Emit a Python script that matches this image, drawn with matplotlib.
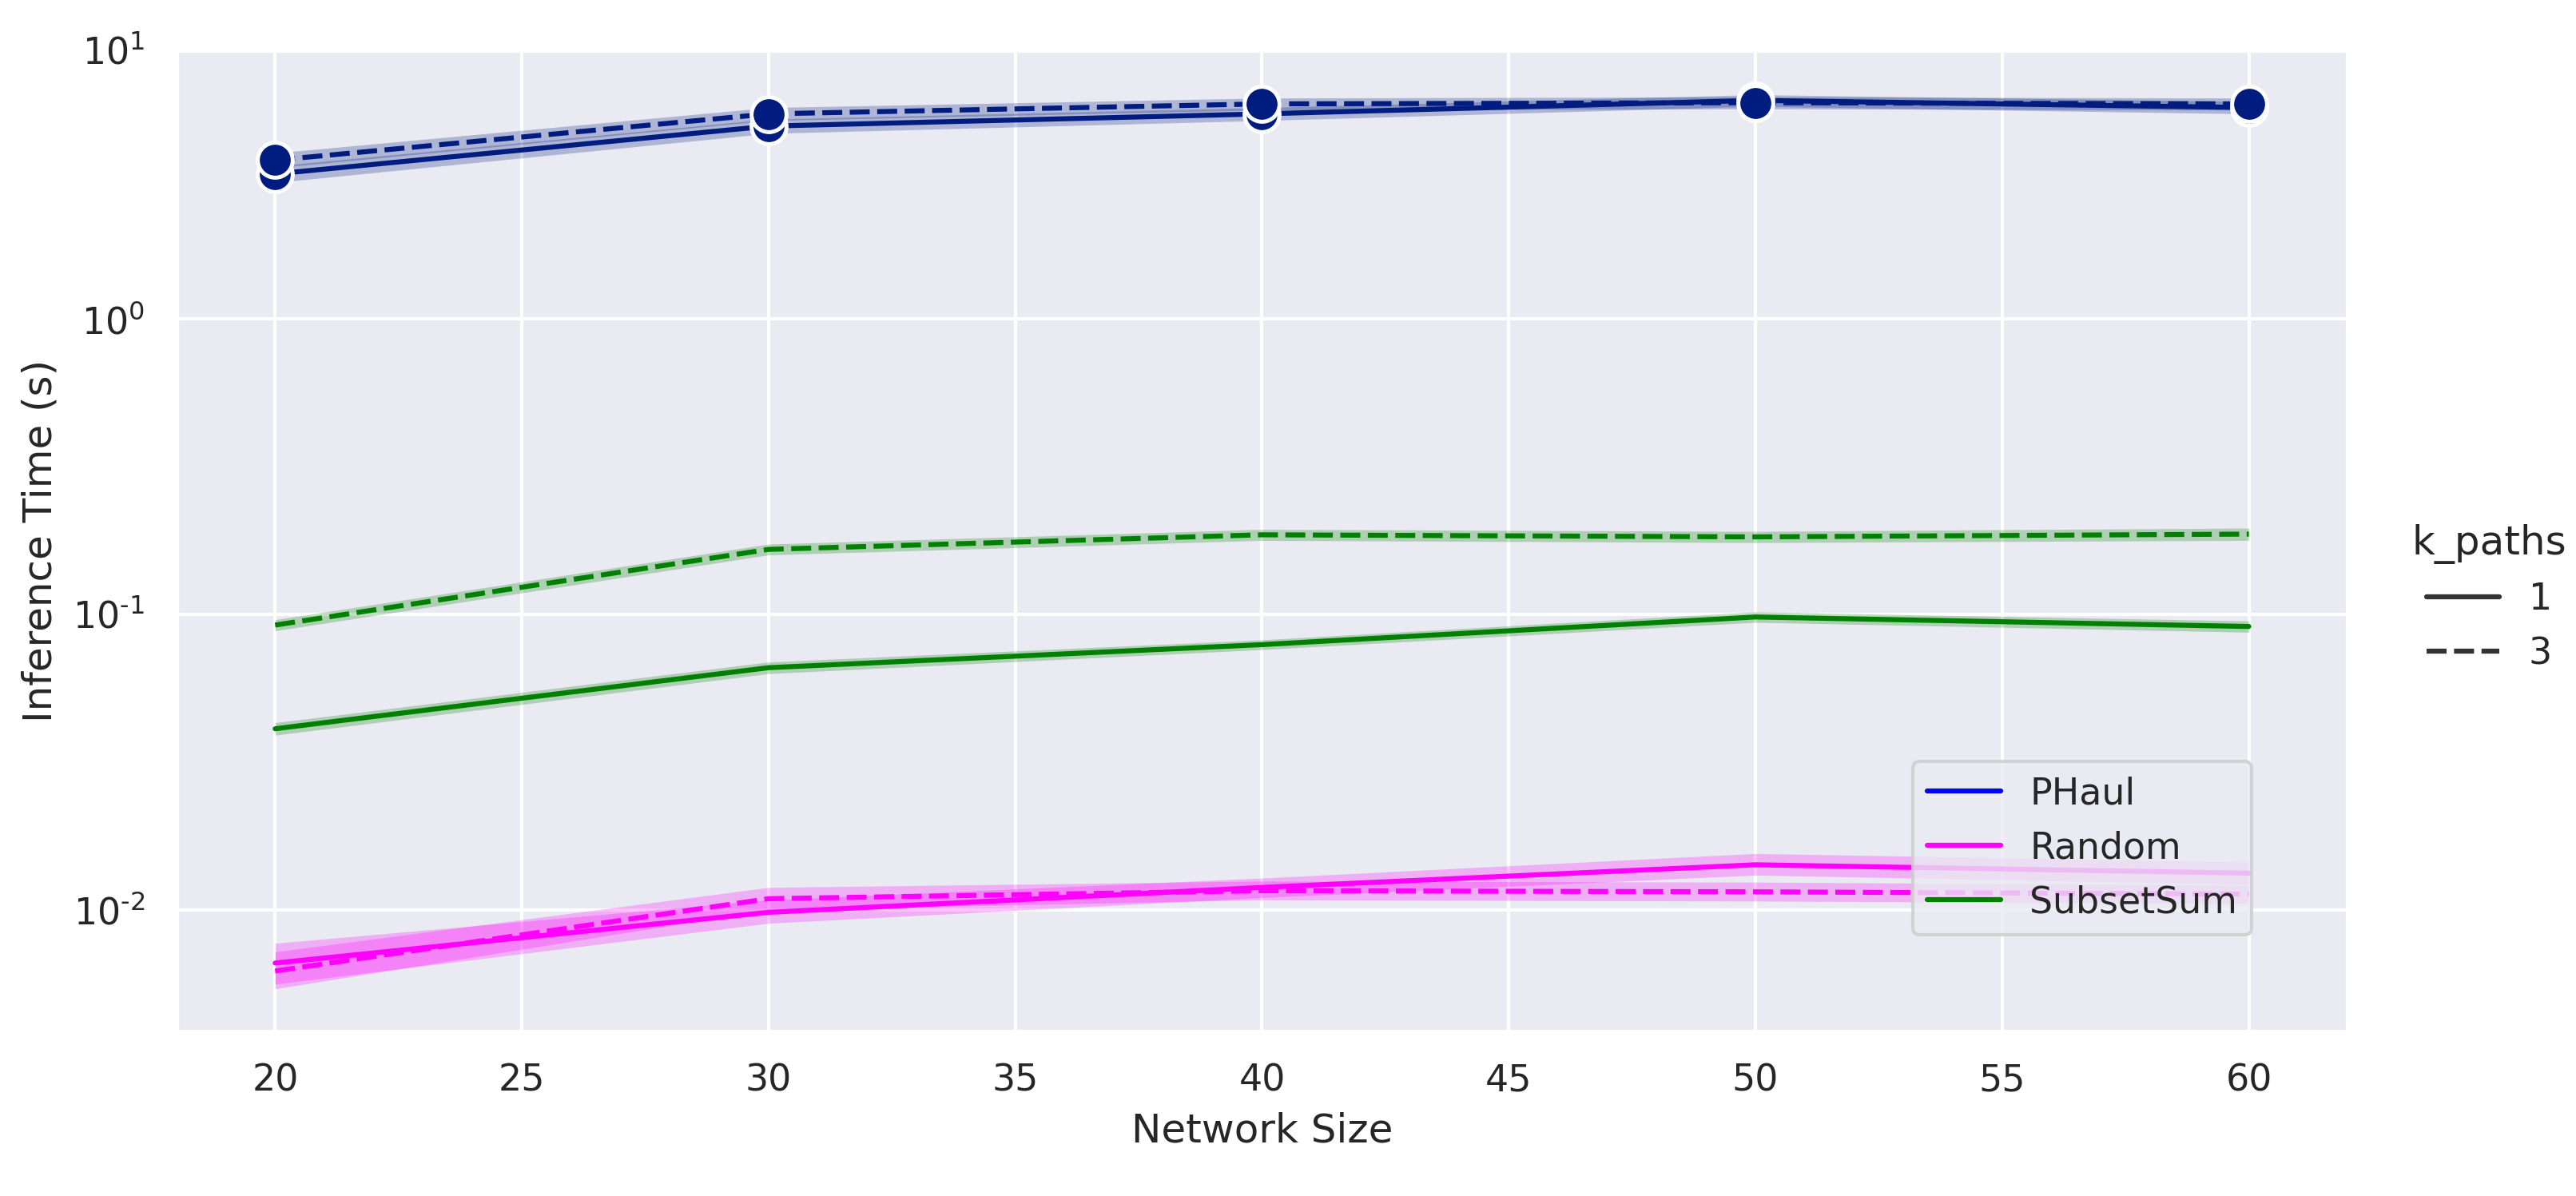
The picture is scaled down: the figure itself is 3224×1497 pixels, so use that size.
import numpy as np
import matplotlib
matplotlib.use("Agg")
import matplotlib.pyplot as plt
import seaborn as sns
from matplotlib.lines import Line2D

sns.set_theme(style="darkgrid")
plt.rcParams['font.family'] = ['DejaVu Sans']

# data
network_size = [20, 30, 40, 50, 60]

phaul_k1 = [3.1, 4.5, 4.95, 5.5, 5.2]
phaul_k1_lo = [2.9, 4.25, 4.7, 5.25, 4.95]
phaul_k1_hi = [3.3, 4.75, 5.2, 5.75, 5.45]
phaul_k3 = [3.45, 4.95, 5.35, 5.4, 5.35]
phaul_k3_lo = [3.25, 4.7, 5.1, 5.15, 5.1]
phaul_k3_hi = [3.65, 5.2, 5.6, 5.65, 5.6]

subset_k1 = [0.041, 0.066, 0.079, 0.098, 0.091]
subset_k1_lo = [0.039, 0.063, 0.076, 0.094, 0.087]
subset_k1_hi = [0.043, 0.069, 0.082, 0.102, 0.095]
subset_k3 = [0.092, 0.166, 0.186, 0.183, 0.187]
subset_k3_lo = [0.088, 0.159, 0.178, 0.175, 0.178]
subset_k3_hi = [0.096, 0.173, 0.194, 0.191, 0.196]

random_k1 = [0.0066, 0.0098, 0.0119, 0.0142, 0.0133]
random_k1_lo = [0.0056, 0.0090, 0.0110, 0.0131, 0.0122]
random_k1_hi = [0.0077, 0.0108, 0.0128, 0.0155, 0.0145]
random_k3 = [0.0062, 0.0109, 0.0116, 0.0115, 0.0113]
random_k3_lo = [0.0054, 0.0100, 0.0108, 0.0107, 0.0105]
random_k3_hi = [0.0072, 0.0119, 0.0125, 0.0124, 0.0121]

methods = ["PHaul", "Random", "SubsetSum"]
legend_colors = ["blue", "magenta", "green"]
k_paths = ["1", "3"]

navy = "#001c7f"
dash = (4, 1.5)

fig = plt.figure(figsize=(3224 / 300, 1497 / 300), dpi=300)
ax = fig.add_axes([0.0685, 0.1378, 0.9113 - 0.0685, 0.958 - 0.1378])

series = [
    (random_k1, random_k1_lo, random_k1_hi, "magenta", False, False),
    (random_k3, random_k3_lo, random_k3_hi, "magenta", True, False),
    (subset_k1, subset_k1_lo, subset_k1_hi, "green", False, False),
    (subset_k3, subset_k3_lo, subset_k3_hi, "green", True, False),
    (phaul_k1, phaul_k1_lo, phaul_k1_hi, navy, False, True),
    (phaul_k3, phaul_k3_lo, phaul_k3_hi, navy, True, True),
]

for vals, lo, hi, col, dashed, marks in series:
    ax.fill_between(network_size, lo, hi, color=col, alpha=0.25, linewidth=0)
    kw = dict(color=col, linewidth=1.5)
    if dashed:
        kw["dashes"] = dash
    if marks:
        kw.update(marker="o", markersize=10.5, markeredgecolor="white",
                  markeredgewidth=1.2)
    ax.plot(network_size, vals, **kw)

ax.set_yscale("log")
ytop = 8.13
ax.set_ylim(0.00388, ytop)
ax.set_xlim(18, 62)
ax.set_yticks([0.01, 0.1, 1, ytop])
ax.set_yticklabels([r"$\mathdefault{10^{\text{-}2}}$", r"$\mathdefault{10^{\text{-}1}}$",
                    r"$\mathdefault{10^{0}}$", r"$\mathdefault{10^{1}}$"])
ax.minorticks_off()
ax.tick_params(labelsize=11)
ax.set_xlabel("Network Size", fontsize=12)
ax.set_ylabel("Inference Time (s)", fontsize=12)

# method legend inside the axes
h1 = [Line2D([], [], color=c, linewidth=1.5) for c in legend_colors]
ax.legend(h1, methods, loc="lower right", bbox_to_anchor=(0.956, 0.098),
          borderaxespad=0, fontsize=11)

# k_paths legend at the right of the figure
h2 = [Line2D([], [], color=".2", linewidth=1.5),
      Line2D([], [], color=".2", linewidth=1.5, dashes=dash)]
fig.legend(h2, k_paths, title="k_paths", loc="center right",
           bbox_to_anchor=(1.002, 0.5), borderaxespad=0, frameon=False,
           fontsize=11, title_fontsize=12)

fig.savefig("out.png", dpi=300)
